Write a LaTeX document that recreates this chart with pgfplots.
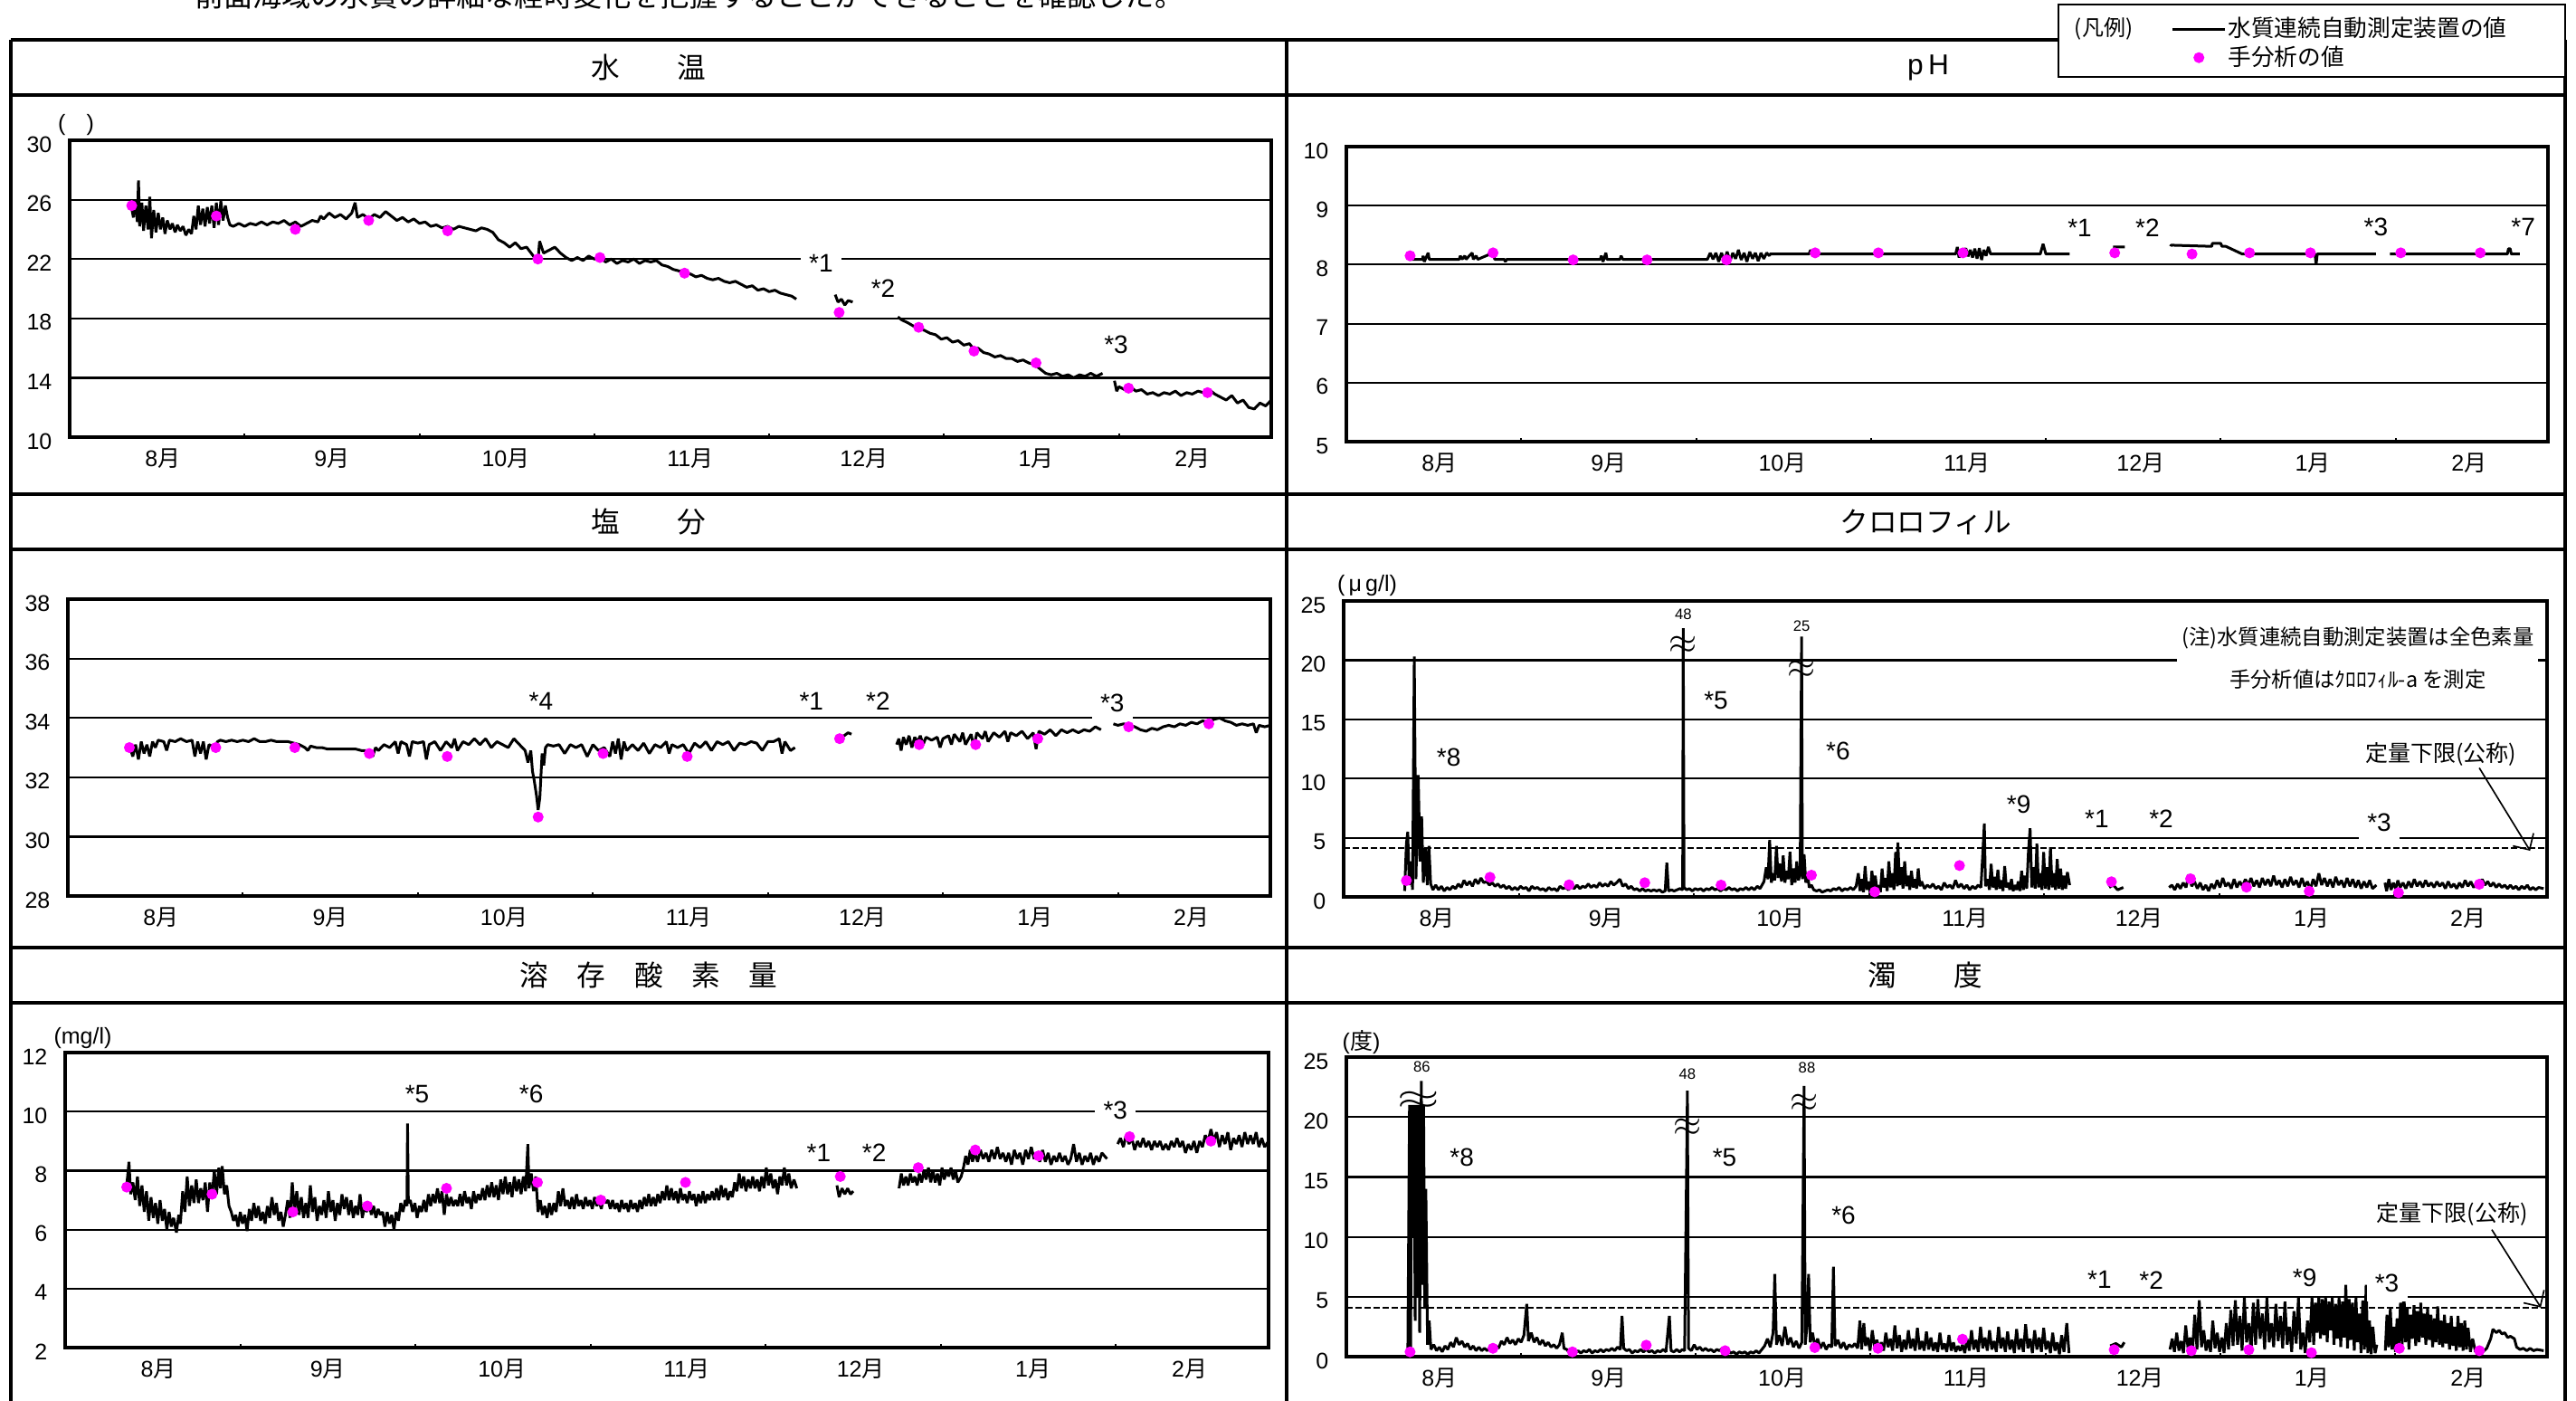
\documentclass[border=0pt]{standalone}
\usepackage{fontspec}
\setmainfont{Liberation Sans}
\newfontfamily\jp{Noto Sans CJK JP}
\usepackage{pgfplots}
\pgfplotsset{compat=1.18}
\usetikzlibrary{arrows.meta}
\definecolor{mag}{RGB}{255,0,255}
\newcommand\fs[1]{\fontsize{#1}{#1}\selectfont}
\pgfplotsset{
  panel/.style={
    scale only axis, anchor=south west,
    xmin=0, xmax=213,
    axis line style={line width=0.95pt},
    ymajorgrids, grid style={line width=0.65pt, black},
    tick align=inside, tick pos=left,
    major tick length=0pt,
    xtick style={line width=0.6pt, black},
    xtick={16.5,46.5,77.3,110,140.8,171.3,199},
    xticklabels={{8{\jp 月}},{9{\jp 月}},{10{\jp 月}},{11{\jp 月}},{12{\jp 月}},{1{\jp 月}},{2{\jp 月}}},
    extra x ticks={31,62,93,124,155,186},
    extra x tick labels={},
    extra x tick style={major tick length=1.3pt, xticklabel={}},
    xticklabel style={anchor=base, yshift=-9.6pt, font=\fs{7.5pt}},
    yticklabel style={anchor=base east, inner sep=0pt, xshift=-5.7pt, yshift=-3.9pt, font=\fs{7.5pt}},
    /pgf/number format/assume math mode=true,
    unbounded coords=jump,
  },
  dline/.style={black, line width=0.9pt, no markers, line join=bevel},
  hand/.style={only marks, mark=*, mark size=1.6pt, color=mag},
  lineleg/.style={legend image code/.code={\draw[##1, line width=0.9pt] (0pt,0pt) -- (17.4pt,0pt);}},
  dotleg/.style={legend image code/.code={\draw[mark repeat=1,mark phase=1,##1] plot coordinates {(8.7pt,0pt)};}},
}
\tikzset{
  ann/.style={font=\fs{8.4pt}, inner sep=1pt},
  annw/.style={font=\fs{8.4pt}, inner sep=2.8pt, fill=white},
  brk/.style={font=\fs{12.5pt}, inner sep=0pt},
  small/.style={font=\fs{5pt}, inner sep=0pt},
}
\begin{document}
\begin{tikzpicture}
\useasboundingbox (0pt,0pt) rectangle (854.1pt,-464.1pt);
\begin{scope}
\clip (0pt,0pt) rectangle (854.1pt,-464.1pt);
\node[font=\jp\fs{9.65pt}, anchor=base, inner sep=0pt] at (228.5pt,-2.3pt) {前面海域の水質の詳細な経時変化を把握することができることを確認した。};
\end{scope}
% frame
\begin{scope}[line width=1.2pt]
\draw (3.6pt,-13.2pt) -- (850.5pt,-13.2pt);
\draw (3.6pt,-31.5pt) -- (850.5pt,-31.5pt);
\draw (3.6pt,-163.8pt) -- (850.5pt,-163.8pt);
\draw (3.6pt,-182.1pt) -- (850.5pt,-182.1pt);
\draw (3.6pt,-314.1pt) -- (850.5pt,-314.1pt);
\draw (3.6pt,-332.4pt) -- (850.5pt,-332.4pt);
\draw (3.6pt,-13.2pt) -- (3.6pt,-470pt);
\draw (426.6pt,-13.2pt) -- (426.6pt,-470pt);
\draw (850.5pt,-13.2pt) -- (850.5pt,-470pt);
\end{scope}
\draw[line width=0.8pt, fill=white] (682.5pt,-1.5pt) rectangle (850.5pt,-25.5pt);
\node[font=\jp\fs{7.2pt}] at (697.5pt,-9.6pt) {(凡例)};
% titles
\node[font=\jp\fs{9.5pt}] at (215.1pt,-22.35pt) {水　　温};
\node[font=\fs{9.5pt}] at (639.3pt,-22.35pt) {p\,H};
\node[font=\jp\fs{9.5pt}] at (215.1pt,-172.95pt) {塩　　分};
\node[font=\jp\fs{9.5pt}] at (638.4pt,-172.95pt) {クロロフィル};
\node[font=\jp\fs{9.5pt}] at (215.1pt,-323.25pt) {溶　存　酸　素　量};
\node[font=\jp\fs{9.5pt}] at (638.4pt,-323.25pt) {濁　　度};
% unit labels
\node[font=\fs{7.5pt}] at (25.2pt,-41.4pt) {(\hspace{7pt})};
\node[font=\fs{7.5pt}] at (453.3pt,-194.1pt) {(\,μ\,g/l)};
\node[font=\fs{7.5pt}] at (27.45pt,-344.1pt) {(mg/l)};
\node[font=\fs{7.5pt}] at (451.35pt,-345.6pt) {({\jp 度})};

%================ Temperature
\begin{axis}[panel, at={(23.1pt,-144.9pt)}, width=398.4pt, height=98.4pt,
  ymin=10, ymax=30, ytick={10,14,18,22,26,30}]
\addplot[dline] coordinates {(11.0,25.4)(11.3,24.8)(11.6,26.0)(12.0,24.5)(12.2,27.3)(12.4,24.2)(12.8,25.8)(13.1,23.9)(13.5,25.6)(13.9,24.0)(14.2,26.2)(14.5,23.4)(14.9,25.3)(15.3,23.8)(15.7,25.1)(16.1,24.0)(16.5,24.8)(16.9,23.7)(17.3,24.6)(17.8,24.0)(18.2,24.4)(18.7,23.8)(19.1,24.3)(19.6,23.9)(20.1,24.2)(20.6,23.6)(21.1,24.0)(21.6,23.7)(22.0,24.9)(22.4,24.0)(22.8,25.6)(23.2,24.3)(23.6,25.4)(24.0,24.2)(24.4,25.5)(24.8,24.4)(25.2,25.6)(25.6,24.1)(26.0,25.8)(26.4,24.3)(26.8,25.9)(27.2,24.6)(27.6,25.6)(28.0,24.8)(28.4,24.3)
(29,24.2)(30,24.4)(31,24.2)(32,24.4)(33,24.3)(34,24.5)(35,24.3)(36,24.5)(37,24.4)(38,24.6)(39,24.3)(40,24.5)(41,24.2)(42,24.4)(43,24.6)(44,24.5)
(44.5,24.9)(45,24.7)(46,25.1)(47,24.8)(48,25.0)(49,24.7)(50,25.1)(50.6,25.8)(51,24.8)(52,25.0)(53,24.7)(54,25.0)(55,24.8)(56,25.2)(57,24.9)(58,24.6)
(59,24.8)(60,24.5)(61,24.7)(62,24.4)(63,24.5)(64,24.2)(65,24.3)(66,24.1)(67,24.2)(68,24.0)(69,24.2)(70,24.1)(71,24.0)(72,23.9)(73,24.1)(74,24.0)(75,23.8)
(76,23.3)(77,23.1)(78,22.8)(79,23.1)(80,22.7)(81,22.8)(82,22.3)(83,21.8)(83.3,23.2)(84,22.4)(85,22.6)(86,22.8)(87,22.4)(88,22.1)
(89,21.9)(90,22.1)(91,21.9)(92,22.2)(93,22.0)(94,22.1)(95,21.8)(96,22.0)(97,21.7)(98,21.9)(99,21.8)(100,22.0)(101,21.7)(102,21.9)(103,21.8)(104,21.9)
(105,21.6)(106,21.5)(107,21.3)(108,21.2)(109,21.1)(110,21.0)(111,20.8)(112,20.9)(113,20.7)(114,20.6)(115,20.7)(116,20.5)(117,20.4)(118,20.5)(119,20.3)(120,20.1)(121,20.2)(122,19.9)(123,20.0)(124,19.8)(125,19.9)(126,19.7)(127,19.6)(128,19.5)(128.8,19.3)
(130,nan)
(135.7,19.6)(136.2,19.1)(136.8,19.3)(137.4,18.9)(138,19.2)(138.8,19.1)
(142,nan)
(146.8,18.1)(147.5,17.9)(148.6,17.7)(149.5,17.5)(150.5,17.3)(151.5,17.2)(152.5,17.0)(153.5,16.9)(154.5,16.6)(155.5,16.7)(156.5,16.4)(157.5,16.5)(158.5,16.2)(159.5,16.3)(160.3,15.9)(161,16.0)(162,15.7)(163,15.6)(164,15.4)(165,15.5)(166,15.3)(167,15.3)(168,15.1)(169,15.2)(170,15.0)(171,14.9)(172,14.6)(173,14.3)(174,14.2)(175,14.3)(176,14.1)(177,14.2)(178,14.0)(179,14.2)(180,14.1)(181,14.3)(182,14.1)(183.1,14.3)
(184,nan)
(185.2,13.8)(185.6,13.1)(186,13.4)(187,13.2)(188,13.4)(189,13.1)(190,13.2)(191,12.9)(192,13.0)(193,12.8)(194,13.0)(195,12.9)(196,13.1)(197,12.8)(198,13.0)(199,12.9)(200,13.1)(201,13.0)(202,13.2)(203,12.9)(204,12.7)(205,12.5)(206,12.8)(207,12.3)(208,12.5)(209,12.0)(210,11.9)(211,12.3)(212,12.1)(213,12.5)};
\addplot[hand] coordinates {(11,25.6)(26,24.9)(40,24.0)(53,24.6)(67,23.9)(83,22.0)(94,22.1)(109,21.05)(136.4,18.4)(150.5,17.4)(160.3,15.8)(171.3,15.0)(187.7,13.3)(201.7,13.0)};
\node[annw] at (axis cs:133.2,21.7) {*1};
\node[ann] at (axis cs:144.2,20.0) {*2};
\node[ann] at (axis cs:185.5,16.25) {*3};
\end{axis}

%================ pH
\begin{axis}[panel, at={(446.4pt,-146.4pt)}, width=398.4pt, height=97.8pt,
  ymin=5, ymax=10, ytick={5,6,7,8,9,10},
  legend cell align=left,
  legend style={at={(0.6785,1.4663)}, anchor=north west, draw=none, fill=none,
    font=\jp\fs{7.7pt}, nodes={inner sep=0.5pt}, row sep=0.45pt}]
\addplot[dline, lineleg] coordinates {(11,8.09)(12,8.09)(13.5,8.09)(13.6,8.15)(13.8,8.05)(14,8.09)(14.5,8.2)(14.7,8.09)(20,8.09)(20.2,8.15)(20.5,8.09)(21,8.15)(21.2,8.09)(22.3,8.2)(22.5,8.09)(23,8.15)(23.3,8.09)(26,8.2)(26.3,8.09)(28,8.09)(28.2,8.05)(28.4,8.09)(45,8.09)(45.2,8.15)(45.5,8.05)(46,8.2)(46.2,8.09)(48.5,8.09)(48.7,8.15)(49,8.09)(64,8.09)(64.5,8.2)(65,8.09)(65.5,8.2)(66,8.05)(66.5,8.2)(67,8.07)(67.5,8.22)(68,8.06)(68.5,8.2)(69,8.1)(69.5,8.25)(70,8.08)(70.5,8.2)(71,8.05)(71.5,8.22)(72,8.1)(72.5,8.2)(73,8.06)(73.5,8.2)(74,8.1)(74.5,8.2)(75,8.15)
(75.1,8.18)(82,8.18)(82.3,8.25)(82.5,8.18)(94,8.18)(94.5,8.15)(94.7,8.18)(108,8.18)(108.3,8.3)(108.6,8.12)(109,8.25)(109.4,8.15)(109.8,8.28)(110.2,8.14)(110.6,8.25)(111,8.12)(111.4,8.27)(111.8,8.1)(112.2,8.28)(112.6,8.08)(113,8.25)(113.4,8.15)(113.8,8.3)(114.2,8.18)(123,8.18)(123.5,8.35)(124,8.18)(128.2,8.18)
(130,nan)
(135.9,8.3)(138,8.3)
(141,nan)
(146.1,8.31)(146.2,8.33)(153.4,8.31)(153.5,8.36)(155,8.36)(155.2,8.31)(155.9,8.31)(158.8,8.18)(171.7,8.18)(171.9,8.0)(172.1,8.18)(182.5,8.18)
(183.5,nan)
(185,8.18)(201,8.18)(201.2,8.24)(201.4,8.18)(205.8,8.18)(206,8.27)(206.3,8.27)(206.5,8.18)(208,8.18)};
\addplot[hand, dotleg] coordinates {(11.3,8.15)(26,8.2)(40.2,8.08)(53.3,8.08)(67.4,8.08)(83.1,8.2)(94.3,8.2)(109.3,8.2)(136.2,8.2)(149.9,8.18)(160.1,8.2)(170.9,8.2)(186.9,8.2)(201,8.2)};
\legend{水質連続自動測定装置の値,手分析の値}
\node[ann] at (axis cs:130,8.62) {*1};
\node[ann] at (axis cs:142,8.62) {*2};
\node[ann] at (axis cs:182.5,8.64) {*3};
\node[ann] at (axis cs:208.6,8.64) {*7};
\end{axis}

%================ Salinity
\begin{axis}[panel, at={(22.5pt,-297pt)}, width=398.7pt, height=98.4pt,
  ymin=28, ymax=38, ytick={28,30,32,34,36,38}]
\addplot[dline] coordinates {(11,33.0)(11.5,32.7)(12,33.1)(12.5,32.6)(13,33.2)(13.5,32.8)(14,33.1)(14.5,32.7)(15,33.2)(15.5,33.0)(16,33.25)(17,33.2)(17.5,32.9)(18,33.25)(19,33.2)(20,33.3)(21,33.2)(22,33.25)(22.5,32.7)(23,33.2)(23.5,32.8)(24,33.2)(24.5,32.6)(25,33.1)(26,33.0)(26.5,33.2)(27,33.25)(28,33.2)
(29,33.25)(30,33.2)(31,33.25)(32,33.2)(33,33.3)(34,33.2)(35,33.2)(36,33.25)(37,33.2)(38,33.2)(39,33.2)(40,33.15)
(41,33.1)(42,33.0)(42.5,32.9)(43,33.05)(44,33.0)(45,33.0)(46,32.95)(47,32.95)(48,32.95)(49,32.95)(50,32.95)(51,32.95)(52,32.9)(53,32.9)
(54,32.7)(54.5,33.0)(55,32.9)(56,33.1)(57,33.0)(58,33.2)(58.5,32.8)(59,33.2)(60,33.1)(60.5,32.7)(61,33.2)(62,33.15)(63,33.2)(63.5,32.6)(64,33.1)(65,33.2)(66,32.9)(67,33.2)(68,33.0)(68.5,33.3)(69,32.9)(70,33.2)(71,33.1)(72,33.3)(73,33.1)(74,33.3)(75,33.0)(76,33.2)(77,33.1)(78,33.0)(79,33.3)(80,33.1)(81,32.9)
(81.5,32.5)(82,32.9)(82.3,32.2)(82.6,31.9)(83,31.4)(83.3,30.9)(83.6,31.3)(84,32.8)(84.3,32.4)(84.6,33.0)
(85,33.1)(86,33.05)(87,33.1)(88,32.8)(89,33.1)(90,33.0)(91,33.1)(92,32.7)(93,33.1)(94,32.9)(95,33.0)(96,32.7)(96.5,33.2)(97,32.8)(97.5,33.3)(98,32.6)(98.5,33.2)(99,32.9)(100,33.1)(101,32.9)(102,33.15)(103,32.8)(104,33.1)(105,33.0)(106,33.2)(106.5,32.8)(107,33.1)(108,33.0)(109,33.1)(110,32.8)(111,33.15)(112,33.0)(113,33.2)(114,32.9)(115,33.2)(116,33.1)(117,33.2)(118,32.9)(119,33.15)(120,33.1)(121,33.2)(122,33.15)(123,32.9)(124,33.2)(125,33.2)(126,33.3)(126.5,32.8)(127,33.2)(128,32.9)(128.8,33.0)
(130,nan)
(136.6,33.35)(137.5,33.4)(138.2,33.5)(138.8,33.45)
(142,nan)
(146.8,33.1)(147.2,33.3)(147.6,32.9)(148,33.35)(148.5,33.1)(149,33.4)(149.5,33.0)(150,33.35)(150.5,33.2)(151,33.4)(151.5,33.1)(152,33.35)(153,33.25)(154,33.35)(154.5,33.0)(155,33.3)(156,33.4)(156.5,33.1)(157,33.45)(158,33.2)(158.5,33.5)(159,33.1)(160,33.45)(160.5,33.0)(161,33.5)(162,33.3)(162.5,33.55)(163,33.2)(164,33.5)(165,33.35)(166,33.55)(166.5,33.2)(167,33.5)(168,33.4)(169,33.55)(170,33.3)(171,33.5)(171.5,32.95)(172,33.55)(173,33.45)(174,33.6)(175,33.4)(176,33.6)(177,33.5)(178,33.6)(179,33.5)(180,33.6)(181,33.55)(182,33.7)(183,33.6)
(184,nan)
(185.2,33.8)(186,33.75)(187,33.8)(188,33.75)(189,33.7)(190,33.6)(191,33.55)(192,33.65)(193,33.6)(194,33.7)(195,33.75)(196,33.7)(197,33.8)(198,33.75)(199,33.85)(200,33.8)(201,33.9)(202,33.85)(203,33.95)(204,34.0)(205,33.9)(206,33.85)(207,33.75)(208,33.8)(209,33.75)(210,33.8)(210.5,33.5)(211,33.75)(212,33.7)(213,33.75)};
\addplot[hand] coordinates {(10.9,33.0)(26.2,33.0)(40.2,33.0)(53.4,32.8)(67.2,32.7)(83.3,30.66)(94.8,32.8)(109.7,32.7)(136.7,33.3)(150.8,33.1)(160.8,33.1)(171.8,33.3)(187.9,33.7)(202.1,33.8)};
\node[ann] at (axis cs:83.8,34.55) {*4};
\node[ann] at (axis cs:131.7,34.55) {*1};
\node[ann] at (axis cs:143.5,34.55) {*2};
\node[annw] at (axis cs:185,34.5) {*3};
\end{axis}

%================ Chlorophyll
\begin{axis}[panel, at={(445.5pt,-297.3pt)}, width=399pt, height=98.1pt,
  ymin=0, ymax=25, ytick={0,5,10,15,20,25}]
\addplot[black, line width=0.65pt, dash pattern=on 2pt off 1pt] coordinates {(0,4.1)(213,4.1)};
\addplot[dline] coordinates {(10.8,0.5)(11.1,4.5)(11.35,5.5)(11.6,1.0)(11.9,3.0)(12.2,0.6)(12.5,20.3)(12.8,1.5)(13.2,10.3)(13.5,3.0)(13.8,6.8)(14.1,1.2)(14.5,4.2)(14.8,1.0)(15.1,4.3)(15.4,1.1)(15.8,0.6)(16.3,1.0)(16.8,0.6)(17.3,0.9)(17.8,0.5)(18.3,0.8)(18.8,0.6)(19.3,0.9)(19.8,0.7)(20.3,1.1)(20.8,0.8)(21.3,1.4)(21.8,1.0)(22.3,1.3)(22.8,0.9)(23.3,1.5)(23.8,1.1)(24.3,1.6)(24.8,1.2)(25.3,1.3)(25.8,1.0)(26.3,1.2)(26.8,0.9)(27.3,1.1)(27.8,0.8)(28.3,1.0)(28.8,0.7)(29.3,0.9)(29.8,0.6)(30.3,0.8)(30.8,0.6)(31.3,0.9)(31.8,0.7)(32.3,0.8)(32.8,0.5)(33.3,0.9)(33.8,0.7)(34.3,0.8)(34.8,0.6)(35.3,0.7)(35.8,0.5)(36.3,0.8)(36.8,0.6)(37.3,0.7)(37.8,0.5)(38.3,0.9)(38.8,0.7)(39.3,0.8)(39.8,0.6)(40.3,0.9)(40.8,0.7)(41.3,1.0)(41.8,0.7)(42.3,0.9)(42.8,0.8)(43.3,1.1)(43.8,0.8)(44.3,1.0)(44.8,0.8)(45.3,1.2)(45.8,0.9)(46.3,1.1)(46.8,0.9)(47.3,1.3)(47.8,1.0)(48.3,1.2)(48.9,1.5)(49.4,0.9)(49.9,1.1)(50.4,0.7)(50.9,0.9)(51.4,0.6)(51.9,0.7)(52.4,0.5)(52.9,0.7)(53.4,0.5)(53.9,0.6)(54.4,0.5)(54.9,0.6)(55.4,0.5)(55.9,0.6)(56.4,0.4)(56.9,0.5)(57.2,2.9)(57.5,0.5)(58.0,0.6)(58.5,0.5)(59.0,0.6)(59.5,0.7)(60.0,0.6)(60.1,22.7)(60.25,0.8)(60.7,0.6)(61.2,0.7)(61.7,0.5)(62.2,0.7)(62.7,0.6)(63.2,0.7)(63.7,0.5)(64.2,0.7)(64.7,0.6)(65.2,0.8)(65.7,0.6)(66.2,0.7)(66.7,0.5)(67.2,0.7)(67.7,0.6)(68.2,0.8)(68.7,0.6)(69.2,0.7)(69.7,0.5)(70.2,0.7)(70.7,0.6)(71.2,0.8)(71.7,0.6)(72.2,0.8)(72.7,0.6)(73.2,0.9)(73.7,0.7)(74.4,1.3)(74.8,2.5)(75.1,1.5)(75.4,4.8)(75.7,1.2)(76.0,2.0)(76.3,1.4)(76.6,4.3)(76.9,1.6)(77.2,2.8)(77.5,1.3)(77.8,3.5)(78.1,1.2)(78.4,2.2)(78.7,1.5)(79.0,3.8)(79.3,1.0)(79.6,2.4)(79.9,1.2)(80.2,3.0)(80.5,1.4)(80.8,2.0)(81.05,22.0)(81.2,1.5)(81.5,3.6)(81.8,1.2)(82.1,2.0)(82.4,0.8)(82.8,1.0)(83.2,0.6)(83.7,0.5)(84.2,0.6)(84.7,0.4)(85.2,0.5)(85.7,0.6)(86.2,0.5)(86.7,0.7)(87.2,0.6)(87.7,0.8)(88.2,0.5)(88.7,0.7)(89.2,0.6)(89.7,0.8)(90.2,0.6)(90.7,0.9)(91.1,2.0)(91.4,0.5)(91.7,1.5)(92.0,0.4)(92.3,2.6)(92.6,0.6)(92.9,1.3)(93.2,0.3)(93.5,2.2)(93.8,0.7)(94.1,1.8)(94.4,0.5)(94.7,1.0)(95.0,0.4)(95.3,2.4)(95.6,0.8)(95.9,1.6)(96.2,0.5)(96.5,3.0)(96.8,0.8)(97.1,2.0)(97.4,0.6)(97.7,3.8)(98.0,0.9)(98.1,4.6)(98.4,1.0)(98.7,2.5)(99.0,0.7)(99.3,3.0)(99.6,0.9)(99.9,1.8)(100.2,0.6)(100.5,2.2)(100.8,0.8)(101.1,1.5)(101.4,0.7)(101.7,2.4)(102.0,0.9)(102.3,1.3)(102.8,0.7)(103.3,1.0)(103.8,0.8)(104.3,1.1)(104.8,0.7)(105.3,0.9)(105.8,0.6)(106.3,1.2)(106.8,0.8)(107.3,1.0)(107.8,0.7)(108.3,1.4)(108.8,0.8)(109.3,1.1)(109.8,0.7)(110.3,1.0)(110.8,0.6)(111.3,0.9)(111.8,0.7)(112.3,1.0)(112.8,0.8)(113.4,6.2)(113.6,0.9)(114.0,1.5)(114.3,0.6)(114.6,2.8)(114.9,0.8)(115.2,1.7)(115.5,0.6)(115.8,2.3)(116.1,0.7)(116.4,1.4)(116.7,0.5)(117.0,2.6)(117.3,0.8)(117.6,1.2)(117.9,0.6)(118.2,1.5)(118.5,0.5)(118.8,1.0)(119.1,0.6)(119.4,1.3)(119.7,0.5)(120.0,2.2)(120.3,0.6)(120.6,1.8)(120.9,0.7)(121.2,3.8)(121.5,5.8)(121.8,0.8)(122.1,2.5)(122.4,0.7)(122.7,4.5)(123.0,0.8)(123.3,2.0)(123.6,0.6)(123.9,3.8)(124.2,0.7)(124.5,2.5)(124.8,0.6)(125.1,4.2)(125.4,0.8)(125.7,2.0)(126.0,0.6)(126.3,3.2)(126.6,0.7)(126.9,2.4)(127.2,0.6)(127.5,1.8)(127.8,0.7)(128.1,2.1)(128.5,1.0)
(130,nan)
(135.5,0.8)(136.2,1.0)(137,0.6)(138,0.8)
(141,nan)
(146.1,0.8)(146.6,1.0)(147.1,0.6)(147.6,1.1)(148.1,0.7)(148.6,1.2)(149.1,0.8)(149.6,1.9)(150.1,0.9)(150.6,1.3)(151.1,0.7)(151.6,1.2)(152.1,0.6)(152.6,1.0)(153.1,0.5)(153.6,1.1)(154.1,0.7)(154.6,1.4)(155.1,0.8)(155.6,1.6)(156.1,0.9)(156.6,1.2)(157.1,0.7)(157.6,1.5)(158.1,0.8)(158.6,1.3)(159.1,0.9)(159.6,1.5)(160.1,1.0)(160.6,1.6)(161.1,0.9)(161.6,1.4)(162.1,0.8)(162.6,1.6)(163.1,1.0)(163.6,1.5)(164.1,0.9)(164.6,1.8)(165.1,1.0)(165.6,1.4)(166.1,0.8)(166.6,1.5)(167.1,0.9)(167.6,1.7)(168.1,1.0)(168.6,1.4)(169.1,0.8)(169.6,1.6)(170.1,0.9)(170.6,1.3)(171.1,0.6)(171.6,1.5)(172.1,0.9)(172.6,2.0)(173.1,1.0)(173.6,1.6)(174.1,0.9)(174.6,1.5)(175.1,0.8)(175.6,1.7)(176.1,1.0)(176.6,1.4)(177.1,0.8)(177.6,1.6)(178.1,0.9)(178.6,1.5)(179.1,0.8)(179.6,1.4)(180.1,0.7)(180.6,1.3)(181.1,0.8)(181.6,1.4)(182.1,0.7)(182.8,1.0)
(183.5,nan)
(184.3,1.2)(184.6,0.5)(185.0,1.5)(185.4,0.6)(185.8,1.2)(186.2,0.7)(186.6,1.4)(187.0,0.8)(187.5,1.2)(188.0,0.7)(188.5,1.3)(189.0,0.8)(189.5,1.5)(190.0,0.9)(190.5,1.3)(191.0,0.8)(191.5,1.4)(192.0,0.9)(192.5,1.2)(193.0,0.8)(193.5,1.3)(194.0,0.9)(194.5,1.2)(195.0,0.7)(195.5,1.3)(196.0,0.8)(196.5,1.1)(197.0,0.7)(197.5,1.2)(198.0,0.8)(198.5,1.4)(199.0,0.9)(199.5,1.3)(200.0,0.8)(200.5,1.1)(201.0,0.9)(201.5,1.5)(202.0,1.0)(202.5,1.3)(203.0,0.9)(203.5,1.2)(204.0,0.8)(204.5,1.1)(205.0,0.8)(205.5,1.0)(206.0,0.7)(206.5,1.0)(207.0,0.7)(207.5,0.9)(208.0,0.6)(208.5,0.9)(209.0,0.7)(209.5,1.0)(210.0,0.6)(210.5,0.8)(211.0,0.6)(211.5,0.8)(212.4,0.7)};
\addplot[hand] coordinates {(11.1,1.38)(25.9,1.66)(39.9,1.02)(53.3,1.2)(66.8,1.0)(82.8,1.84)(94,0.43)(109,2.65)(135.9,1.28)(149.9,1.53)(159.8,0.82)(170.9,0.48)(186.7,0.36)(201,1.07)};
\node[brk] at (axis cs:60.1,21.25) {$\approx$};
\node[brk] at (axis cs:81.05,19.2) {$\approx$};
\node[small] at (axis cs:60.1,23.9) {48};
\node[small] at (axis cs:81.05,22.9) {25};
\node[ann] at (axis cs:18.6,11.8) {*8};
\node[ann] at (axis cs:65.9,16.6) {*5};
\node[ann] at (axis cs:87.5,12.3) {*6};
\node[ann] at (axis cs:119.5,7.8) {*9};
\node[ann] at (axis cs:133.3,6.6) {*1};
\node[ann] at (axis cs:144.7,6.6) {*2};
\node[annw] at (axis cs:183.3,6.3) {*3};
\node[fill=white, align=center, inner xsep=1.5pt, inner ysep=1pt, font=\jp\fontsize{7pt}{14.1pt}\selectfont] at (axis cs:179.5,20.2) {(注)水質連続自動測定装置は全色素量\\手分析値はｸﾛﾛﾌｨﾙ-a を測定};
\node[font=\jp\fs{7.5pt}] at (axis cs:194.2,12.05) {定量下限(公称)};
\draw[line width=0.5pt, -{Straight Barb[length=4pt]}] (axis cs:201,10.9) -- (axis cs:210,3.9);
\end{axis}

%================ Dissolved oxygen
\begin{axis}[panel, at={(21.6pt,-446.7pt)}, width=399pt, height=97.8pt,
  ymin=2, ymax=12, ytick={2,4,6,8,10,12}]
\addplot[dline] coordinates {(10.9,7.5)(11.3,8.3)(11.6,7.2)(12,7.6)(12.4,7.0)(12.8,7.8)(13.2,6.8)(13.6,7.5)(14,6.6)(14.4,7.3)(14.8,6.3)(15.2,7.1)(15.6,6.4)(16,6.9)(16.4,6.2)(16.8,7.0)(17.2,6.3)(17.6,6.7)(18,6.0)(18.4,6.6)(18.8,6.1)(19.2,6.4)(19.7,5.9)(20.1,6.5)(20.4,6.2)(20.8,7.3)(21.2,6.6)(21.6,7.8)(22,6.8)(22.4,7.5)(22.8,6.9)(23.2,7.7)(23.6,6.9)(24,7.4)(24.4,7.0)(24.8,7.6)(25.2,6.6)(25.6,7.6)(26,7.1)(26.4,8.0)(26.8,7.2)(27.2,8.1)(27.5,7.4)(27.8,8.15)(28.2,7.2)(28.6,7.5)(29,6.8)(29.4,6.6)(29.8,6.3)(30.2,6.5)(30.6,6.1)(31,6.6)(31.4,6.2)(31.8,6.5)(32.2,5.95)(32.6,6.7)(33,6.3)(33.4,6.9)(33.8,6.4)(34.2,6.8)(34.6,6.3)(35,6.6)(35.4,6.2)(35.8,6.8)(36.2,6.4)(36.6,7.1)(37,6.5)(37.4,6.9)(37.8,6.3)(38.2,6.6)(38.6,6.1)(39,6.5)(39.4,7.0)(39.8,6.4)(40.2,7.6)(40.6,6.6)(41,7.3)(41.4,6.5)(41.8,7.1)(42.2,6.4)(42.6,6.9)(43,6.4)(43.4,7.5)(43.8,6.6)(44.2,7.1)(44.6,6.3)(45,6.8)(45.4,6.5)(45.8,7.0)(46.2,6.4)(46.6,7.3)(47,6.6)(47.4,7.0)(47.8,6.3)(48.2,6.9)(48.6,6.5)(49,7.2)(49.4,6.7)(49.8,7.1)(50.2,6.5)(50.6,7.0)(51,6.4)(51.4,6.8)(51.8,6.5)(52.2,7.2)(52.6,6.4)(53,6.8)(53.4,6.6)(53.8,6.9)(54.2,6.5)(54.6,6.8)(55,6.4)(55.4,6.7)(55.8,6.5)(56.2,6.6)(56.6,6.1)(57,6.6)(57.4,6.2)(57.8,6.5)(58.2,6.0)(58.6,6.6)(59,6.3)(59.4,6.9)(59.8,6.6)(60.2,7.0)(60.5,6.8)(60.6,9.6)(60.75,6.9)(61.1,7.0)(61.5,6.6)(61.9,6.9)(62.3,6.4)(62.7,6.8)(63.1,6.6)(63.5,7.0)(63.9,6.6)(64.3,7.2)(64.7,6.8)(65.1,7.2)(65.5,6.9)(65.9,7.4)(66.3,6.9)(66.7,7.3)(67.1,6.5)(67.5,7.2)(67.9,6.8)(68.3,7.1)(68.7,6.8)(69.1,7.0)(69.5,6.8)(69.9,7.2)(70.3,6.8)(70.7,7.3)(71.1,6.9)(71.5,7.1)(71.9,6.7)(72.3,7.3)(72.7,6.9)(73.1,7.2)(73.5,7.0)(73.9,7.4)(74.3,7.0)(74.7,7.5)(75.1,7.1)(75.5,7.6)(75.9,7.1)(76.3,7.5)(76.7,7.0)(77.1,7.7)(77.5,7.2)(77.9,7.8)(78.3,7.2)(78.7,7.6)(79.1,7.1)(79.5,7.8)(79.9,7.3)(80.3,7.7)(80.7,7.2)(81.1,7.8)(81.5,7.3)(81.9,8.9)(82.1,7.4)(82.5,7.9)(82.9,7.3)(83.3,7.8)(83.7,6.6)(84.1,7.0)(84.5,6.5)(84.9,6.8)(85.3,6.4)(85.7,6.9)(86.1,6.5)(86.5,6.9)(86.9,6.6)(87.3,7.3)(87.7,6.8)(88.1,7.4)(88.5,6.8)(88.9,7.0)(89.3,6.7)(89.7,7.1)(90.1,6.7)(90.5,7.2)(90.9,6.8)(91.3,7.0)(91.7,6.7)(92.1,7.1)(92.5,6.8)(92.9,7.0)(93.3,6.7)(93.7,7.1)(94.1,6.8)(94.5,7.0)(94.9,6.7)(95.3,7.1)(95.7,6.9)(96.1,7.0)(96.5,6.7)(96.9,7.0)(97.3,6.7)(97.7,6.9)(98.1,6.6)(98.5,7.0)(98.9,6.7)(99.3,6.9)(99.7,6.6)(100.1,7.0)(100.5,6.7)(100.9,6.9)(101.3,6.6)(101.7,7.0)(102.1,6.7)(102.5,7.1)(102.9,6.8)(103.3,7.2)(103.7,6.8)(104.1,7.1)(104.5,6.8)(104.9,7.2)(105.3,6.9)(105.7,7.3)(106.1,7.0)(106.5,7.5)(106.9,7.0)(107.3,7.4)(107.7,7.0)(108.1,7.3)(108.5,6.9)(108.9,7.4)(109.3,7.0)(109.7,7.2)(110.1,6.9)(110.5,7.3)(110.9,7.0)(111.3,7.2)(111.7,6.8)(112.1,7.2)(112.5,6.9)(112.9,7.3)(113.3,6.9)(113.7,7.2)(114.1,7.0)(114.5,7.3)(114.9,7.0)(115.3,7.4)(115.7,7.0)(116.1,7.5)(116.5,7.1)(116.9,7.4)(117.3,7.0)(117.7,7.3)(118.1,7.1)(118.5,7.6)(118.9,7.3)(119.3,7.9)(119.7,7.4)(120.1,7.8)(120.5,7.3)(120.9,7.7)(121.3,7.4)(121.7,7.8)(122.1,7.4)(122.5,7.7)(122.9,7.3)(123.3,7.8)(123.7,7.4)(124.1,8.1)(124.5,7.5)(124.9,7.9)(125.3,7.4)(125.7,7.7)(126.1,7.2)(126.5,7.8)(126.9,7.5)(127.3,8.1)(127.7,7.5)(128.1,7.9)(128.5,7.4)(129,7.7)(129.5,7.4)
(131,nan)
(136.6,7.5)(137,7.1)(137.5,7.4)(138,7.2)(138.5,7.4)(139,7.2)(139.5,7.3)
(142,nan)
(147.6,7.4)(148,7.9)(148.4,7.5)(148.8,7.8)(149.2,7.5)(149.6,7.9)(150,7.6)(150.4,7.8)(150.8,7.5)(151.2,7.9)(151.6,7.6)(152,8.0)(152.4,7.7)(152.8,8.1)(153.2,7.6)(153.6,8.0)(154,7.6)(154.4,7.9)(154.8,7.5)(155.2,8.1)(155.6,7.7)(156,8.0)(156.4,7.8)(156.8,8.1)(157.2,7.7)(157.6,8.0)(158,7.6)(158.6,7.8)(159,8.1)(159.4,8.5)(159.8,8.2)(160.2,8.7)(160.6,8.3)(161,8.6)(161.5,8.3)(162,8.7)(162.5,8.4)(163,8.6)(163.5,8.3)(164,8.7)(164.5,8.4)(165,8.8)(165.5,8.4)(166,8.6)(166.5,8.3)(167,8.6)(167.5,8.2)(168,8.7)(168.5,8.4)(169,8.6)(169.5,8.2)(170,8.7)(170.5,8.4)(171,8.8)(171.5,8.4)(172,8.6)(172.5,8.3)(173,8.7)(173.5,8.3)(174,8.6)(174.5,8.2)(175,8.5)(175.5,8.3)(176,8.6)(176.5,8.3)(177,8.5)(177.5,8.2)(178,8.4)(178.5,8.9)(179,8.3)(179.5,8.6)(180,8.2)(180.5,8.5)(181,8.3)(181.5,8.6)(182,8.2)(182.5,8.5)(183,8.3)(183.5,8.6)(184.4,8.4)
(185.3,nan)
(186.3,8.9)(186.8,9.1)(187.3,8.8)(187.8,9.2)(188.3,8.9)(188.8,9.1)(189.3,8.7)(189.8,9.0)(190.3,8.8)(190.8,9.1)(191.3,8.8)(191.8,9.0)(192.3,8.7)(192.8,9.0)(193.3,8.8)(193.8,9.0)(194.3,8.7)(194.8,8.9)(195.3,8.7)(195.8,9.0)(196.3,8.8)(196.8,9.1)(197.3,8.8)(197.8,9.0)(198.3,8.6)(198.8,8.9)(199.3,8.7)(199.8,9.0)(200.3,8.6)(200.8,9.0)(201.3,8.8)(201.8,9.2)(202.3,9.0)(202.8,9.4)(203.3,9.0)(203.8,9.3)(204.3,8.8)(204.8,9.2)(205.3,8.9)(205.8,9.3)(206.3,8.7)(206.8,9.1)(207.3,8.9)(207.8,9.2)(208.3,8.8)(208.8,9.3)(209.3,8.9)(209.8,9.2)(210.3,8.9)(210.8,9.3)(211.3,8.8)(211.8,9.1)(212.3,8.8)(213,9.0)};
\addplot[hand] coordinates {(10.9,7.44)(26,7.2)(40.3,6.6)(53.5,6.8)(67.5,7.4)(83.6,7.6)(94.8,7.0)(109.8,7.6)(137.2,7.8)(151,8.1)(161.1,8.7)(172.3,8.5)(188.4,9.15)(202.8,9.0)};
\node[ann] at (axis cs:62.3,10.6) {*5};
\node[ann] at (axis cs:82.5,10.6) {*6};
\node[ann] at (axis cs:133.4,8.6) {*1};
\node[ann] at (axis cs:143.2,8.6) {*2};
\node[annw] at (axis cs:185.9,10.05) {*3};
\end{axis}

%================ Turbidity
\begin{axis}[panel, at={(446.4pt,-449.7pt)}, width=398.1pt, height=99.3pt,
  ymin=0, ymax=25, ytick={0,5,10,15,20,25}]
\addplot[black, line width=0.65pt, dash pattern=on 2pt off 1pt] coordinates {(0,4.1)(213,4.1)};
\addplot[dline] coordinates {(10.9,0.3)(11.2,21.0)(11.4,0.5)(11.6,21.0)(11.8,10.0)(12.0,21.0)(12.2,3.0)(12.4,21.0)(12.6,5.0)(12.8,21.0)(13.0,2.0)(13.3,23.0)(13.5,6.0)(13.7,21.0)(13.9,4.0)(14.1,14.0)(14.4,1.0)(14.7,3.0)(15.0,0.6)(15.5,1.0)(16,0.5)(16.5,0.8)(17,0.4)(17.5,0.9)(18,0.6)(18.5,1.2)(19,0.8)(19.5,1.6)(20,1.0)(20.5,1.3)(21,0.8)(21.5,1.1)(22,0.6)(22.5,0.9)(23,0.5)(23.5,0.8)(24,0.5)(24.5,0.7)(25,0.5)(25.5,0.8)(26,0.6)(26.5,0.9)(27,0.7)(27.5,1.3)(28,1.0)(28.5,1.6)(29,1.1)(29.5,1.4)(30,1.0)(30.5,1.5)(31,1.2)(31.5,1.8)(32,4.4)(32.3,1.3)(32.8,2.0)(33.3,1.2)(33.8,1.6)(34.3,1.0)(34.8,1.4)(35.3,0.9)(35.8,1.2)(36.3,0.8)(36.8,1.0)(37.3,0.7)(37.8,1.0)(38.3,2.0)(38.6,0.7)(39.1,0.6)(39.6,0.3)(40.1,0.5)(40.6,0.3)(41.1,0.5)(41.6,0.3)(42.1,0.5)(42.6,0.4)(43.1,0.6)(43.6,0.3)(44.1,0.5)(44.6,0.4)(45.1,0.6)(45.6,0.4)(46.1,0.6)(46.6,0.5)(47.1,0.7)(47.6,0.5)(48.1,0.8)(48.6,0.6)(48.9,3.4)(49.2,0.7)(49.7,0.5)(50.2,0.6)(50.7,0.3)(51.2,0.5)(51.7,0.4)(52.2,0.6)(52.7,0.4)(53.2,0.6)(53.7,0.4)(54.2,0.5)(54.7,0.3)(55.2,0.5)(55.7,0.4)(56.2,0.6)(56.7,0.4)(57.3,3.4)(57.6,0.5)(58.1,0.4)(58.6,0.6)(59.1,0.4)(59.6,0.6)(60.0,0.5)(60.5,22.2)(60.7,0.7)(61.2,0.5)(61.7,1.0)(62.2,0.6)(62.7,0.8)(63.2,0.5)(63.7,0.7)(64.2,0.5)(64.7,0.6)(65.2,0.4)(65.7,0.6)(66.2,0.5)(66.7,0.7)(67.2,0.4)(67.7,0.5)(68.2,0.3)(68.7,0.4)(69.2,0.2)(69.7,0.4)(70.2,0.3)(70.7,0.4)(71.2,0.2)(71.7,0.4)(72.2,0.3)(72.7,0.5)(73.2,0.3)(73.7,0.6)(74.2,0.9)(74.7,1.5)(75.2,0.8)(75.7,2.0)(76.0,6.9)(76.3,1.0)(76.8,1.8)(77.3,0.9)(77.8,2.5)(78.3,1.0)(78.8,1.6)(79.3,0.8)(79.8,1.3)(80.3,0.7)(80.8,1.2)(81.2,22.6)(81.4,1.0)(81.7,2.5)(82.0,6.9)(82.3,1.2)(82.7,2.0)(83.1,0.9)(83.6,1.5)(84.1,0.7)(84.6,1.2)(85.1,0.6)(85.6,1.0)(86.1,0.8)(86.4,7.5)(86.7,0.9)(87.2,1.4)(87.7,0.7)(88.2,1.2)(88.7,0.6)(89.2,1.0)(89.7,0.8)(90.2,1.1)(90.7,0.7)(91.1,3.0)(91.4,0.6)(91.8,2.8)(92.1,0.9)(92.5,1.6)(92.9,0.5)(93.3,2.2)(93.7,0.8)(94.1,1.4)(94.5,0.7)(94.9,1.2)(95.3,0.5)(95.7,2.0)(96.1,0.8)(96.5,1.5)(96.9,0.5)(97.3,2.6)(97.7,0.7)(98.1,1.8)(98.5,0.4)(98.9,1.4)(99.3,0.6)(99.7,2.2)(100.1,0.7)(100.5,1.5)(100.9,0.5)(101.3,2.4)(101.7,0.6)(102.1,1.3)(102.5,0.5)(102.9,2.1)(103.3,0.6)(103.7,1.6)(104.1,0.5)(104.5,1.2)(104.9,0.4)(105.3,2.0)(105.7,0.6)(106.1,1.1)(106.5,0.4)(106.9,1.8)(107.3,0.5)(107.7,1.2)(108.1,0.4)(108.5,0.9)(108.9,0.5)(109.3,1.0)(109.7,0.3)(110.1,1.5)(110.5,0.5)(110.9,2.2)(111.3,0.6)(111.7,1.4)(112.1,0.4)(112.5,2.5)(112.9,0.7)(113.3,1.6)(113.7,0.5)(114.1,2.2)(114.5,0.6)(114.9,1.3)(115.3,0.4)(115.7,2.5)(116.1,0.7)(116.5,1.6)(116.9,0.4)(117.3,2.1)(117.7,0.6)(118.1,1.4)(118.5,0.3)(118.9,2.3)(119.3,0.6)(119.7,1.5)(120.1,0.4)(120.5,2.7)(120.9,0.7)(121.3,1.5)(121.7,0.3)(122.1,2.2)(122.5,0.6)(122.9,1.6)(123.3,0.4)(123.7,2.4)(124.1,0.6)(124.5,1.3)(124.9,0.3)(125.3,2.0)(125.7,0.5)(126.1,1.2)(126.5,0.2)(126.9,1.8)(127.3,0.4)(127.8,2.8)(128.2,0.3)
(130,nan)
(135.5,0.9)(136.5,1.1)(137.5,0.8)(138,1.2)
(141,nan)
(146.1,0.6)(146.5,1.5)(146.9,0.4)(147.3,2.0)(147.7,0.5)(148.1,1.3)(148.5,0.3)(148.9,2.6)(149.3,0.7)(149.7,1.6)(150.1,0.5)(150.5,3.5)(150.9,0.6)(151.3,4.7)(151.7,0.8)(152.1,2.2)(152.5,0.5)(152.9,1.4)(153.3,0.4)(153.7,3.0)(154.1,0.7)(154.5,2.0)(154.9,0.4)(155.3,1.6)(155.7,0.3)(156.1,2.8)(156.5,0.6)(156.9,3.9)(157.3,0.9)(157.7,4.7)(158.1,1.0)(158.5,3.4)(158.9,0.5)(159.3,4.9)(159.7,1.2)(160.1,2.8)(160.5,0.4)(160.9,4.5)(161.3,1.0)(161.7,4.8)(162.1,1.5)(162.5,3.6)(162.9,0.6)(163.3,4.9)(163.7,1.2)(164.1,2.8)(164.5,0.8)(164.9,4.4)(165.3,1.3)(165.7,3.4)(166.1,0.7)(166.5,4.6)(166.9,1.0)(167.3,2.5)(167.7,0.4)(168.1,3.8)(168.5,1.1)(168.9,4.9)(169.3,0.6)(169.7,2.0)(170.1,0.3)(170.5,3.0)(170.9,1.2)(171.3,4.9)(171.6,1.0)(171.9,4.5)(172.2,2.0)(172.5,5.0)(172.8,1.5)(173.1,4.8)(173.4,1.8)(173.7,5.0)(174.0,1.2)(174.3,4.6)(174.6,2.2)(174.9,4.9)(175.2,1.0)(175.5,4.4)(175.8,1.5)(176.1,5.0)(176.4,0.8)(176.7,4.6)(177.0,1.6)(177.3,6.0)(177.6,0.7)(177.9,4.8)(178.2,1.4)(178.5,4.5)(178.8,0.5)(179.1,4.9)(179.4,1.2)(179.7,3.6)(180.0,0.3)(180.3,4.7)(180.6,0.6)(180.9,6.0)(181.2,0.3)(181.5,3.0)(181.8,0.2)(182.1,2.5)(182.5,0.3)(182.8,1.0)
(183.5,nan)
(184.3,0.5)(184.6,3.5)(184.9,0.8)(185.2,4.0)(185.5,0.6)(185.8,2.5)(186.1,0.4)(186.4,3.2)(186.7,0.8)(187.0,4.5)(187.3,1.0)(187.6,5.5)(187.9,1.2)(188.2,4.0)(188.5,0.6)(188.8,3.5)(189.1,1.5)(189.4,4.3)(189.7,0.9)(190.0,3.8)(190.3,1.2)(190.6,4.5)(190.9,1.6)(191.2,3.6)(191.5,1.0)(191.8,4.0)(192.1,1.4)(192.4,3.5)(192.7,0.8)(193.0,3.2)(193.3,1.2)(193.6,4.2)(193.9,1.0)(194.2,3.0)(194.5,0.8)(194.8,3.5)(195.1,1.1)(195.4,2.8)(195.7,0.6)(196.0,3.4)(196.3,0.9)(196.6,2.5)(196.9,0.5)(197.2,3.4)(197.5,0.8)(197.8,2.8)(198.1,0.5)(198.4,3.0)(198.7,0.6)(199.0,2.4)(199.4,0.4)(199.8,1.5)(200.3,0.4)(201,0.6)(201.6,0.4)(202.3,0.7)(203,1.5)(203.4,2.3)(204,2.0)(204.5,2.2)(205,1.9)(205.5,2.0)(206,1.6)(206.5,1.7)(207.2,1.5)(207.6,0.8)(208.2,0.6)(208.8,0.7)(209.4,0.5)(210,0.7)(210.6,0.5)(211.2,0.6)(212.4,0.5)};
\addplot[hand] coordinates {(11.3,0.4)(26,0.7)(40.1,0.4)(53.2,0.96)(67.2,0.5)(83.1,0.76)(94.3,0.7)(109.3,1.46)(136.2,0.58)(149.9,0.5)(160.1,0.58)(171.2,0.33)(186.8,0.7)(201,0.5)};
\node[brk, xscale=1.5] at (axis cs:12.8,21.4) {$\approx$};
\node[brk] at (axis cs:60.5,19.1) {$\approx$};
\node[brk] at (axis cs:81.2,21.2) {$\approx$};
\node[small] at (axis cs:13.4,24.2) {86};
\node[small] at (axis cs:60.5,23.6) {48};
\node[small] at (axis cs:81.7,24.1) {88};
\node[ann] at (axis cs:20.5,16.6) {*8};
\node[ann] at (axis cs:67.1,16.6) {*5};
\node[ann] at (axis cs:88.2,11.8) {*6};
\node[ann] at (axis cs:133.6,6.4) {*1};
\node[ann] at (axis cs:142.8,6.4) {*2};
\node[ann] at (axis cs:170,6.6) {*9};
\node[annw] at (axis cs:184.6,6.1) {*3};
\node[font=\jp\fs{7.5pt}] at (axis cs:196.2,11.9) {定量下限(公称)};
\draw[line width=0.5pt, -{Straight Barb[length=4pt]}] (axis cs:203.2,10.6) -- (axis cs:211.9,4.1);
\end{axis}
\end{tikzpicture}
\end{document}
